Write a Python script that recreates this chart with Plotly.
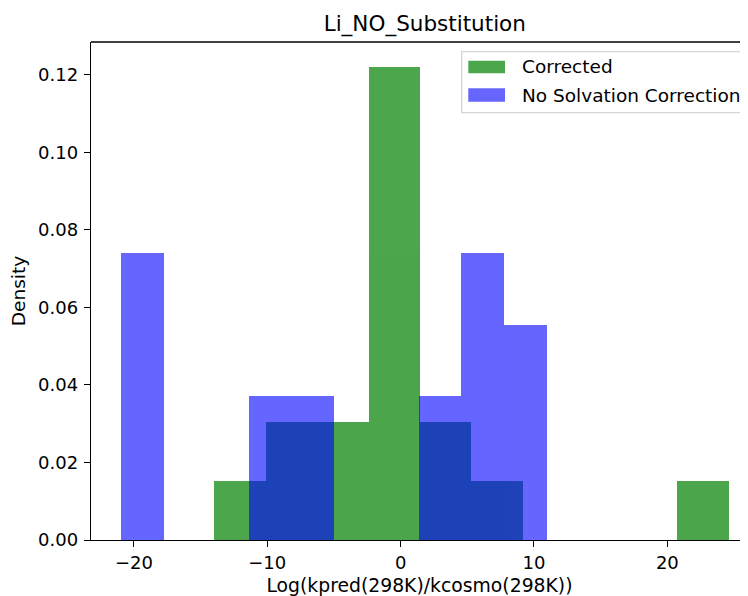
import plotly.graph_objects as go

# ---- data (density-normalised histograms) ----
corrected_edges = [-13.98, -10.12, -6.26, -2.40, 1.45, 5.31, 9.17, 13.03, 16.89, 20.74, 24.60]
corrected_density = [0.0152, 0.0305, 0.0305, 0.1220, 0.0305, 0.0152, 0.0, 0.0, 0.0, 0.0152]

nosolv_edges = [-20.97, -17.78, -14.59, -11.39, -8.20, -5.01, -1.82, 1.37, 4.56, 7.76, 10.95]
nosolv_density = [0.0740, 0.0, 0.0, 0.0372, 0.0372, 0.0, 0.0, 0.0372, 0.0740, 0.0556]

series_names = ["Corrected", "No Solvation Correction"]
x_ticks = [-20, -10, 0, 10, 20]
y_ticks = [0.00, 0.02, 0.04, 0.06, 0.08, 0.10, 0.12]

title_text = "Li_NO_Substitution"
x_label = "Log(kpred(298K)/kcosmo(298K))"
y_label = "Density"


def centers(edges):
    return [(a + b) / 2 for a, b in zip(edges[:-1], edges[1:])]


def widths(edges):
    return [b - a for a, b in zip(edges[:-1], edges[1:])]


# page is 748x596; the browser's default body margin shifts the figure by 8px
OFF = 8
W, H = 748 - OFF, 596 - OFF
ML, MR, MT, MB = 91 - OFF, 0, 42 - OFF, 56
PW, PH = W - ML - MR, H - MT - MB


def px(x):  # page pixel -> paper
    return (x - OFF - ML) / PW


def py(y):  # page pixel -> paper
    return (H - MB - (y - OFF)) / PH


FONT = "DejaVu Sans"
fig = go.Figure()
fig.add_trace(go.Bar(x=centers(corrected_edges), y=corrected_density, width=widths(corrected_edges),
                     marker=dict(color="rgb(0,128,0)", line=dict(width=0)), opacity=0.7,
                     name=series_names[0], showlegend=False))
fig.add_trace(go.Bar(x=centers(nosolv_edges), y=nosolv_density, width=widths(nosolv_edges),
                     marker=dict(color="rgb(0,0,255)", line=dict(width=0)), opacity=0.6,
                     name=series_names[1], showlegend=False))

# manual legend (matplotlib style)
shapes = [
    dict(type="line", xref="paper", yref="paper", x0=0, x1=1.05, y0=1, y1=1,
         line=dict(color="black", width=1.4)),
    dict(type="rect", xref="paper", yref="paper", x0=px(461.7), x1=px(753), y0=py(112.7), y1=py(51.7),
         line=dict(color="#d5d5d5", width=1.3), fillcolor="rgba(255,255,255,0.8)", layer="above"),
    dict(type="rect", xref="paper", yref="paper", x0=px(468.3), x1=px(505), y0=py(73.3), y1=py(60.7),
         line=dict(width=0), fillcolor="rgba(0,128,0,0.7)", layer="above"),
    dict(type="rect", xref="paper", yref="paper", x0=px(468.3), x1=px(505), y0=py(101.7), y1=py(88.3),
         line=dict(width=0), fillcolor="rgba(0,0,255,0.6)", layer="above"),
]
annotations = [
    dict(text=series_names[0], xref="paper", yref="paper", x=px(520), y=py(67), xanchor="left",
         yanchor="middle", showarrow=False, font=dict(family=FONT, size=18.5, color="black")),
    dict(text=series_names[1], xref="paper", yref="paper", x=px(520), y=py(95.5), xanchor="left",
         yanchor="middle", showarrow=False, font=dict(family=FONT, size=18.5, color="black")),
]

fig.update_layout(
    width=W, height=H,
    margin=dict(l=ML, r=MR, t=MT, b=MB, pad=0),
    paper_bgcolor="white", plot_bgcolor="white",
    barmode="overlay", bargap=0,
    font=dict(family=FONT, size=18, color="black"),
    title=dict(text=title_text, x=(424.8 - OFF) / W, xref="container", xanchor="center",
               y=1 - (23 - OFF) / H, yref="container", yanchor="middle",
               font=dict(family=FONT, size=21.5, color="black")),
    shapes=shapes, annotations=annotations,
    showlegend=False,
)
fig.update_xaxes(range=[-23.22, 26.05], tickvals=x_ticks, ticks="outside", ticklen=6, tickwidth=1.4,
                 tickcolor="black", showline=True, linecolor="black", linewidth=1.4,
                 showgrid=False, zeroline=False, ticklabelstandoff=0,
                 title=dict(text=x_label, standoff=10, font=dict(family=FONT, size=18.8)))
fig.update_yaxes(range=[0, 0.1285], tickvals=y_ticks, tickformat=".2f", ticks="outside", ticklen=6,
                 tickwidth=1.4, tickcolor="black", showline=True, linecolor="black", linewidth=1.4,
                 showgrid=False, zeroline=False, ticklabelstandoff=2,
                 title=dict(text=y_label, standoff=8, font=dict(family=FONT, size=18.5)))

fig.write_html("out.html")
